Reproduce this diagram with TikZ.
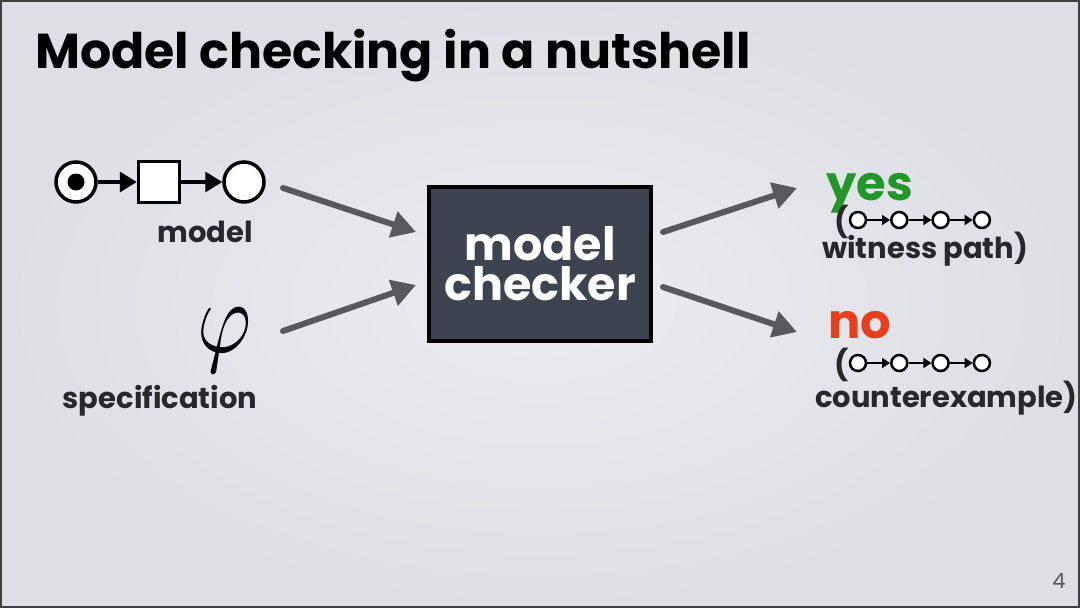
\documentclass[tikz,border=0pt]{standalone}
\usepackage{fontspec}
\setmainfont{Poppins}
\usetikzlibrary{positioning}
\usetikzlibrary{arrows.meta}

\definecolor{slidebg}{RGB}{236,237,241}
\definecolor{slideedge}{RGB}{222,223,228}
\definecolor{boxfill}{RGB}{62,67,80}
\definecolor{flowgray}{RGB}{88,89,95}
\definecolor{yesgreen}{RGB}{34,150,40}
\definecolor{nored}{RGB}{232,62,28}
\definecolor{inktext}{RGB}{40,40,42}

\begin{document}
\begin{tikzpicture}[x=1pt,y=-1pt,
  place/.style={circle, draw=black, fill=white, line width=3.5pt, minimum size=40pt, inner sep=0pt},
  trans/.style={rectangle, draw=black, fill=white, line width=3.5pt, minimum size=41pt, inner sep=0pt},
  token/.style={circle, fill=black, minimum size=17pt, inner sep=0pt},
  netarrow/.style={line width=3.5pt, -{Triangle[length=17pt,width=20pt]}},
  flow/.style={flowgray, line width=6pt, line cap=round, -{Triangle[length=24pt,width=26pt]}},
  lbltext/.style={font=\bfseries\fontsize{29}{29}\selectfont, text=inktext, inner sep=0pt},
  answer/.style={font=\bfseries\fontsize{48}{48}\selectfont, inner sep=0pt},
  dot/.style={circle, draw=black, fill=white, line width=2.5pt, minimum size=16pt, inner sep=0pt},
  dotarrow/.style={line width=2.5pt, -{Triangle[length=8pt,width=10pt]}},
  checker/.style={rectangle, draw=black, line width=4pt, fill=boxfill, text=white, align=center,
    minimum width=222pt, minimum height=154pt, font=\bfseries\fontsize{46}{40}\selectfont}]
	\useasboundingbox (0,0) rectangle (1080,608);
	\shade[inner color=slidebg, outer color=slideedge] (0,0) rectangle (1080,608);
	\draw[black!75, line width=2pt] (1,1) rectangle (1079,607);

	% title
	\node[anchor=base west, inner sep=0pt, font=\bfseries\fontsize{49}{49}\selectfont] (title) at (35,68) {Model checking in a nutshell};

	% the model
	\node[place] (p1) at (76,182) {};
	\node[token] (tok) at (p1) {};
	\node[trans] (t1) at (159,182) {};
	\node[place] (p2) at (244,182) {};
	\draw[netarrow] (p1.east) -- (t1.west);
	\draw[netarrow] (t1.east) -- (p2.west);
	\node[lbltext, anchor=base] (model) at (205,242) {model};

	% the specification
	\node[inner sep=0pt] (phi) at (225,340) {\resizebox*{54pt}{64pt}{$\varphi$}};
	\node[lbltext, anchor=base] (spec) at (160,408) {specification};

	% the checker
	\node[checker] (mc) at (540,264) {model\\checker};

	\coordinate (in1) at (283,188);
	\coordinate (in2) at (283,331);
	\coordinate (mcin1) at (416,232);
	\coordinate (mcin2) at (416,285);
	\coordinate (mcout1) at (663,232);
	\coordinate (mcout2) at (663,287);
	\coordinate (out1) at (797,188);
	\coordinate (out2) at (797,332);
	\draw[flow] (in1) -- (mcin1);
	\draw[flow] (in2) -- (mcin2);
	\draw[flow] (mcout1) -- (out1);
	\draw[flow] (mcout2) -- (out2);

	% yes
	\node[answer, text=yesgreen, anchor=base west] (yes) at (826,200) {yes};
	\node[lbltext, font=\bfseries\fontsize{30}{30}\selectfont] (yparen) at (842,222) {(};
	\foreach \i [evaluate=\i as \x using 858+41.3*\i] in {0,...,3}
		\node[dot] (y\i) at (\x,220) {};
	\foreach \i [count=\j] in {0,1,2}
		\draw[dotarrow] (y\i) -- (y\j);
	\node[lbltext, anchor=base west] (witness) at (822,258) {witness path)};

	% no
	\node[answer, text=nored, anchor=base west] (no) at (828,338) {no};
	\node[lbltext, font=\bfseries\fontsize{30}{30}\selectfont] (nparen) at (842,365) {(};
	\foreach \i [evaluate=\i as \x using 858+41.3*\i] in {0,...,3}
		\node[dot] (n\i) at (\x,363) {};
	\foreach \i [count=\j] in {0,1,2}
		\draw[dotarrow] (n\i) -- (n\j);
	\node[lbltext, anchor=base west] (cex) at (815,407) {counterexample)};

	% page number
	\node[anchor=base, inner sep=0pt, text=black!65, font=\fontsize{21}{21}\selectfont] (page) at (1059,588) {4};
\end{tikzpicture}
\end{document}
